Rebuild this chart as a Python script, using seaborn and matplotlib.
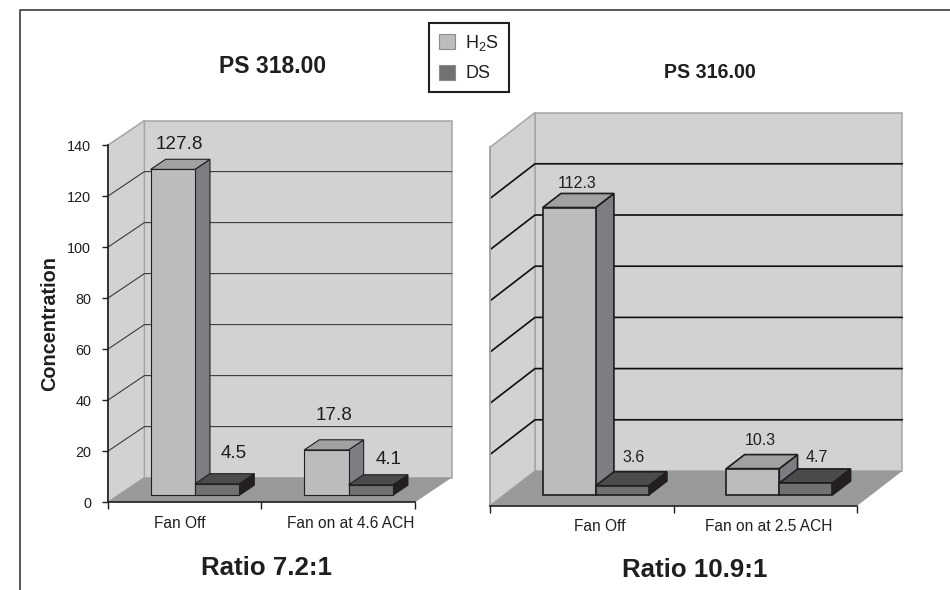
import matplotlib
matplotlib.use("Agg")
import matplotlib.pyplot as plt
import pandas as pd
import seaborn as sns
from matplotlib.lines import Line2D
from matplotlib.patches import Patch, Polygon
from matplotlib.transforms import Affine2D, IdentityTransform

# Concentrations per study site
GASES = ["H2S", "DS"]
CONDITIONS_318 = ["Fan Off", "Fan on at 4.6 ACH"]
H2S_318 = [127.8, 17.8]
DS_318 = [4.5, 4.1]
CONDITIONS_316 = ["Fan Off", "Fan on at 2.5 ACH"]
H2S_316 = [112.3, 10.3]
DS_316 = [3.6, 4.7]
Y_TICKS = [0, 20, 40, 60, 80, 100, 120, 140]
GRID_VALUES = [20, 40, 60, 80, 100, 120]

W, H = 950, 590
INK = "#211e1f"
WALL = "#d1d2d4"
WALL_EDGE = "#a4a5a7"
FLOOR = "#98999b"
FACES = {
    "H2S": {"front": "#bbbcbe", "side": "#7d7e81", "top": "#a0a1a3"},
    "DS": {"front": "#707173", "side": "#231f20", "top": "#4a4b4d"},
}

sns.set_theme(style="white")
plt.rcParams["font.family"] = ["Liberation Sans", "DejaVu Sans"]
plt.rcParams["mathtext.fontset"] = "custom"
plt.rcParams["mathtext.rm"] = "Liberation Sans"
plt.rcParams["mathtext.default"] = "rm"


def fig_xy(x, y):
    """Pixel position measured from the top-left corner, as figure fractions."""
    return x / W, 1 - y / H


def draw_panel(fig, rect, conditions, h2s, ds, depth_px, inset, bar_depth, edge_px,
               grid_color, label_size, label_offsets, label_shift, y_axis):
    left, top, right, bottom = rect
    ax = fig.add_axes([left / W, 1 - bottom / H, (right - left) / W, (bottom - top) / H])
    ax.patch.set_alpha(0)

    frame = pd.DataFrame({
        "condition": conditions * 2,
        "gas": [GASES[0]] * 2 + [GASES[1]] * 2,
        "concentration": h2s + ds,
    })
    sns.barplot(data=frame, x="condition", y="concentration", hue="gas", hue_order=GASES,
                palette={g: FACES[g]["front"] for g in GASES}, width=0.577, saturation=1,
                edgecolor=INK, linewidth=edge_px * 0.72, legend=False, ax=ax)
    ax.set_xlim(-0.5, 1.5)
    ax.set_ylim(0, 140)
    fig.canvas.draw()

    dx, dy = depth_px

    def project(x, y, depth):
        px, py = ax.transData.transform((x, y))
        return px + depth * dx, py + depth * dy

    def add_poly(points, **kw):
        ax.add_patch(Polygon(points, closed=True, transform=IdentityTransform(),
                             clip_on=False, **kw))

    # Box behind the bars: back wall, side wall, floor
    add_poly([project(-0.5, 0, 1), project(1.5, 0, 1), project(1.5, 140, 1), project(-0.5, 140, 1)],
             facecolor=WALL, edgecolor=WALL_EDGE, linewidth=1.1, zorder=0.2)
    add_poly([project(-0.5, 0, 0), project(-0.5, 0, 1), project(-0.5, 140, 1), project(-0.5, 140, 0)],
             facecolor=WALL, edgecolor=WALL_EDGE, linewidth=1.1, zorder=0.2)
    add_poly([project(-0.5, 0, 0), project(1.5, 0, 0), project(1.5, 0, 1), project(-0.5, 0, 1)],
             facecolor=FLOOR, edgecolor="none", zorder=0.3)

    for value in GRID_VALUES:
        pts = [project(-0.5, value, 0), project(-0.5, value, 1), project(1.5, value, 1)]
        ax.add_line(Line2D(*zip(*pts), color=grid_color, linewidth=edge_px * 0.72,
                           transform=IdentityTransform(), clip_on=False, zorder=0.4))

    # Turn each flat bar into a block with a side and a top face
    shift = Affine2D().translate(inset * dx, inset * dy)
    near, far = inset, inset + bar_depth
    offsets = iter(label_offsets)
    for h_idx, (gas, container) in enumerate(zip(GASES, ax.containers)):
        for c_idx, bar in enumerate(container):
            x0, x1 = bar.get_x(), bar.get_x() + bar.get_width()
            val = bar.get_height()
            base = 3 + c_idx + h_idx * 0.2
            style = dict(edgecolor=INK, linewidth=edge_px * 0.72, joinstyle="miter")
            add_poly([project(x1, 0, near), project(x1, 0, far), project(x1, val, far), project(x1, val, near)],
                     facecolor=FACES[gas]["side"], zorder=base, **style)
            add_poly([project(x0, val, near), project(x1, val, near), project(x1, val, far), project(x0, val, far)],
                     facecolor=FACES[gas]["top"], zorder=base, **style)
            bar.set_transform(ax.transData + shift)
            bar.set_clip_on(False)
            bar.set_zorder(base + 0.1)
            ox, oy = next(offsets)
            ax.annotate(f"{val}", xy=((x0 + x1) / 2, val), xytext=(inset * dx + ox, inset * dy + oy),
                        textcoords="offset pixels", ha="center", va="baseline",
                        fontsize=label_size, color=INK, zorder=10, annotation_clip=False)

    # Axes lines, ticks and labels
    sns.despine(ax=ax, top=True, right=True)
    ax.spines["bottom"].set_color(INK)
    ax.spines["bottom"].set_linewidth(1.2)
    ax.spines["left"].set_zorder(1)
    ax.set_xlabel("")
    ax.set_xticks([-0.5, 0.5, 1.5], labels=[])
    ax.set_xticks([i + s for i, s in enumerate(label_shift)], labels=conditions, minor=True)
    ax.tick_params(axis="x", which="major", bottom=True, length=5, width=1, color=INK)
    ax.tick_params(axis="x", which="minor", bottom=False, length=0, pad=9.8,
                   labelsize=11.2, labelcolor=INK)
    if y_axis:
        ax.spines["left"].set_color(INK)
        ax.spines["left"].set_linewidth(1.2)
        ax.set_yticks(Y_TICKS)
        ax.tick_params(axis="y", left=True, length=4.5, width=1, color=INK, pad=7.5,
                       labelsize=10.4, labelcolor=INK)
        ax.set_ylabel("Concentration", fontsize=14.3, fontweight="bold", color=INK, labelpad=6)
    else:
        ax.spines["left"].set_color(WALL_EDGE)
        ax.spines["left"].set_linewidth(1.4)
        ax.set_yticks([])
        ax.set_ylabel("")
    return ax


fig = plt.figure(figsize=(W / 100, H / 100), dpi=100, facecolor="white")

draw_panel(fig, (107.7, 145.3, 415.0, 502.3), CONDITIONS_318, H2S_318, DS_318,
           depth_px=(36.7, 24.7), inset=0.283, bar_depth=0.41, edge_px=1.1, grid_color="#3a3a3c",
           label_size=13.6,
           label_offsets=[(6.8, 20), (7.7, 30), (17, 25.8), (18, 20.8)],
           label_shift=(-0.03, 0.08), y_axis=True)

draw_panel(fig, (490.0, 147.3, 857.3, 505.7), CONDITIONS_316, H2S_316, DS_316,
           depth_px=(45.0, 34.7), inset=0.308, bar_depth=0.405, edge_px=1.7, grid_color="#111111",
           label_size=11.5,
           label_offsets=[(7.5, 19.7), (7, 23.6), (11.5, 23.8), (11, 21)],
           label_shift=(0.097, 0.02), y_axis=False)

# Panel headings and ratios
for text, x, y, size in [("PS 318.00", 273, 72.7, 16.5), ("PS 316.00", 710, 78, 14.1),
                         ("Ratio 7.2:1", 266.5, 575, 18.6), ("Ratio 10.9:1", 694.5, 577, 18.6)]:
    fx, fy = fig_xy(x, y)
    fig.text(fx, fy, text, ha="center", va="baseline", fontsize=size, fontweight="bold", color=INK)

# Shared key for the two panels
handles = [Patch(facecolor=FACES[g]["front"], edgecolor="#8a8b8d", linewidth=0.8) for g in GASES]
legend = fig.legend(handles, ["H$_2$S", "DS"], loc="upper left", bbox_to_anchor=fig_xy(429, 23.3),
                    fontsize=13, handlelength=0.92, handleheight=0.92, handletextpad=0.55,
                    labelspacing=0.64, borderpad=0.54, borderaxespad=0, fancybox=False,
                    framealpha=1, labelcolor=INK)
legend.get_frame().set_edgecolor(INK)
legend.get_frame().set_linewidth(1.5)

# Page rule along the top and left edge
rule_x = [20 / W, 20 / W, 1.0]
rule_y = [0.0, 1 - 10 / H, 1 - 10 / H]
fig.add_artist(Line2D(rule_x, rule_y, color="#2a2a2a", linewidth=1.1, transform=fig.transFigure))

fig.savefig("out.png", dpi=100)
